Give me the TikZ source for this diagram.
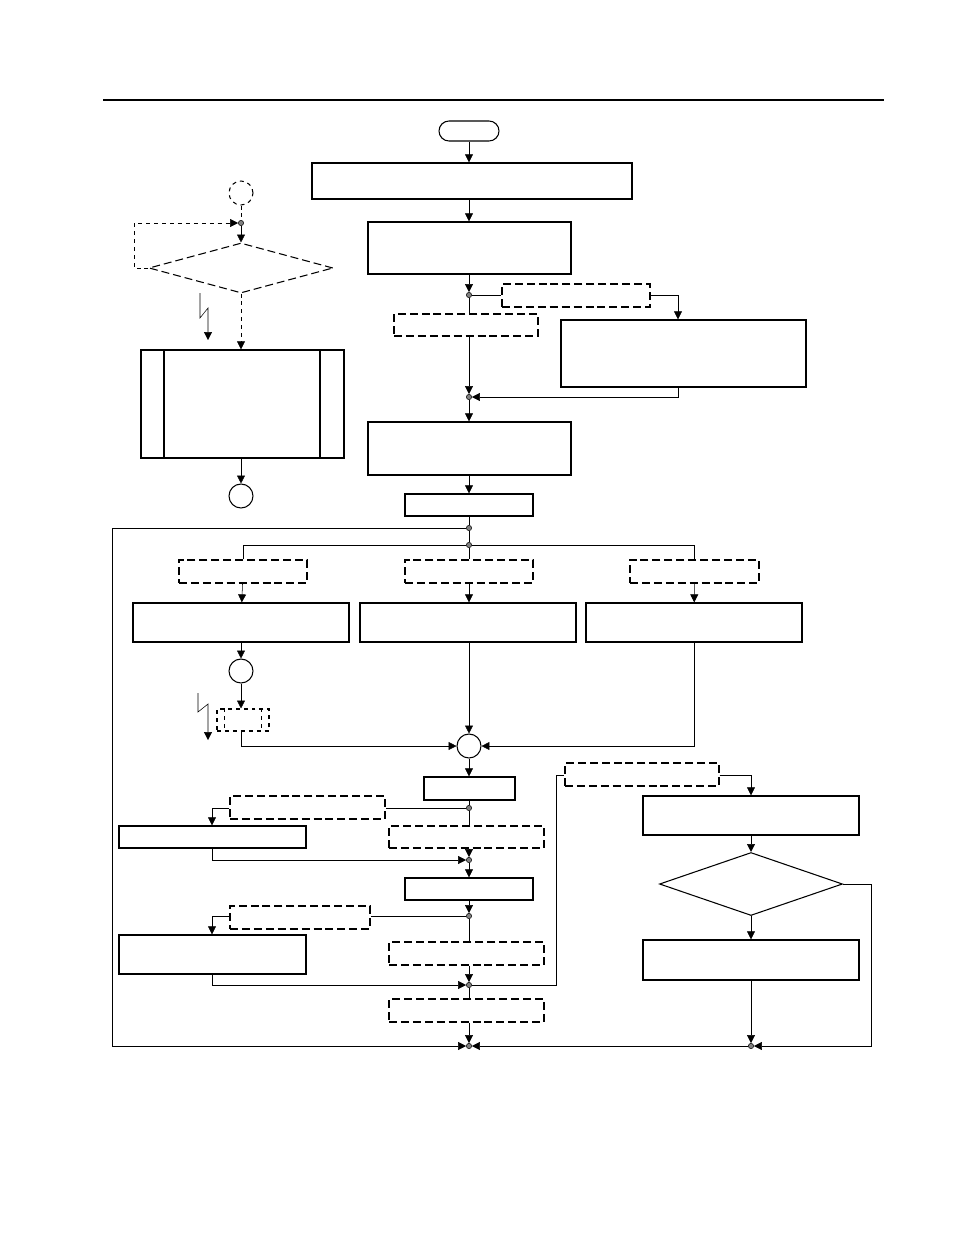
\documentclass[tikz,border=0pt]{standalone}
\usetikzlibrary{arrows.meta,shapes.geometric,shapes.misc,calc}

\tikzset{
  proc/.style={draw, line width=1pt, inner sep=0pt},
  cond/.style={draw, thick, dashed, dash pattern=on 6pt off 3pt, inner sep=0pt},
  flow/.style={-{Triangle[length=6pt,width=6pt]}},
  dot/.style={circle, draw, fill=gray, inner sep=0pt, minimum size=4pt},
  conn/.style={circle, draw, thick, minimum size=24\px, inner sep=0pt}
}
\newlength{\px}\setlength{\px}{0.0265cm}
% box from corner pixels
\newcommand{\pbox}[6][proc]{\node[#1, minimum width=#4\px-#2\px, minimum height=#5\px-#3\px] (#6) at ({(#2+#4)/2*\px},{-(#3+#5)/2*\px}) {};}

\begin{document}
\begin{tikzpicture}[x=\px, y=-\px]
\useasboundingbox (0,0) rectangle (954,1235);
\coordinate (Col) at (469,0);

% Top rule
\draw[line width=1.6pt] (103,100) -- (884,100);

% Main column
\node[draw, thick, rounded rectangle, minimum width=60\px, minimum height=20\px, inner sep=0pt] (Start) at (469,131) {};
\pbox{312}{163}{632}{199}{Init}
\pbox{368}{222}{571}{274}{Setup}
\node[dot] (DotA) at (469,295) {};
\pbox[cond]{502}{284}{650}{307}{CondA}
\pbox[cond]{394}{314}{538}{336}{CondAn}
\pbox{561}{320}{806}{387}{Extra}
\node[dot] (DotB) at (469,397) {};
\pbox{368}{422}{571}{475}{Prepare}
\pbox{405}{494}{533}{516}{Loop}
\node[dot] (DotC) at (469,528) {};
\node[dot] (DotD) at (469,545) {};

\draw[flow] (Start) -- (Init.north -| Col);
\draw[flow] (Init.south -| Col) -- (Setup.north -| Col);
\draw[flow] (Setup.south -| Col) -- (DotA);
\draw (DotA) -- (CondA.west |- DotA);
\draw[flow] (CondA.east |- DotA) -| (Extra.north -| 678,0);
\draw (DotA) -- (CondAn.north -| Col);
\draw[flow] (CondAn.south -| Col) -- (DotB);
\draw[flow] (Extra.south -| 678,0) |- (DotB);
\draw[flow] (DotB) -- (Prepare.north -| Col);
\draw[flow] (Prepare.south -| Col) -- (Loop.north -| Col);
\draw (Loop.south -| Col) -- (DotC) -- (DotD);

% Three branches
\foreach \name/\xa/\xb in {L/179/307, M/405/533, R/630/759}{
  \pbox[cond]{\xa}{560}{\xb}{583}{Case\name}
}
\pbox{133}{603}{349}{642}{ActL}
\pbox{360}{603}{576}{642}{ActM}
\pbox{586}{603}{802}{642}{ActR}
\draw (CaseL.north) |- (DotD) -| (CaseR.north);
\draw (DotD) -- (CaseM.north -| Col);
\draw[flow] (CaseL) -- (ActL);
\draw[flow] (CaseM.south -| Col) -- (ActM.north -| Col);
\draw[flow] (CaseR) -- (ActR);

\node[conn] (OffL) at (241,671) {};
\node[draw, thick, dashed, minimum width=52\px, minimum height=22\px, inner sep=0pt] (WaitL) at (243,720) {};
\draw[thick, dashed] ($(WaitL.north west)+(8,0)$) -- ($(WaitL.south west)+(8,0)$);
\draw[thick, dashed] ($(WaitL.north east)+(-8,0)$) -- ($(WaitL.south east)+(-8,0)$);
\draw[-{Triangle[length=6pt,width=6pt]}] (198,693) -- (198,712) -- (208,704) -- (208,740);
\node[conn] (Merge) at (469,746) {};
\draw[flow] (ActL) -- (OffL);
\draw[flow] (OffL) -- (WaitL.north -| OffL);
\draw[flow] (WaitL.south -| OffL) |- (Merge);
\draw[flow] (ActM.south -| Col) -- (Merge);
\draw[flow] (ActR) |- (Merge);

% Lower column
\pbox{424}{777}{515}{800}{StepF}
\node[dot] (DotE) at (469,808) {};
\pbox[cond]{230}{796}{385}{819}{CondE}
\pbox{119}{826}{306}{848}{ActE}
\pbox[cond]{389}{826}{544}{848}{CondEn}
\node[dot] (DotF) at (469,860) {};
\pbox{405}{878}{533}{900}{StepH}
\node[dot] (DotG) at (469,916) {};
\pbox[cond]{230}{906}{370}{929}{CondG}
\pbox{119}{935}{306}{974}{ActG}
\pbox[cond]{389}{942}{544}{965}{CondGn}
\node[dot] (DotH) at (469,985) {};
\pbox[cond]{389}{999}{544}{1022}{CondH}
\node[dot] (DotI) at (469,1046) {};

\draw[flow] (Merge) -- (StepF.north -| Col);
\draw (StepF.south -| Col) -- (DotE);
\draw (DotE) -- (CondE.east |- DotE);
\draw[flow] (CondE.west |- DotE) -| (ActE.north -| 212,0);
\draw (DotE) -- (CondEn.north -| Col);
\draw[flow] (CondEn.south -| Col) -- (DotF);
\draw[flow] (ActE.south -| 212,0) |- (DotF);
\draw[flow] (DotF) -- (StepH.north -| Col);
\draw[flow] (StepH.south -| Col) -- (DotG);
\draw (DotG) -- (CondG.east |- DotG);
\draw[flow] (CondG.west |- DotG) -| (ActG.north -| 212,0);
\draw (DotG) -- (CondGn.north -| Col);
\draw[flow] (CondGn.south -| Col) -- (DotH);
\draw[flow] (ActG.south -| 212,0) |- (DotH);
\draw (DotH) -- (CondH.north -| Col);
\draw[flow] (CondH.south -| Col) -- (DotI);
\draw[flow] (DotC) -| (112,1046) -- (DotI);

% Right column
\pbox[cond]{565}{763}{719}{786}{CondJ}
\pbox{643}{796}{859}{835}{ActJ}
\node[draw, thick, diamond, aspect=2.9, minimum width=183\px, minimum height=63\px, inner sep=0pt] (Check) at (751,884) {};
\pbox{643}{940}{859}{980}{ActK}
\node[dot] (DotJ) at (751,1046) {};
\draw (DotH) -| (556,775) -- (CondJ.west |- 0,775);
\draw[flow] (CondJ.east |- 0,775) -| (ActJ.north);
\draw[flow] (ActJ) -- (Check);
\draw[flow] (Check) -- (ActK);
\draw[flow] (ActK) -- (DotJ);
\draw[flow] (Check.east) -| (871,1046) -- (DotJ);
\draw[flow] (DotJ) -- (DotI);

% Left interrupt section
\node[conn, dashed] (OffT) at (241,193) {};
\node[dot] (DotT) at (241,223) {};
\node[draw, thick, dashed, dash pattern=on 6pt off 3pt, diamond, aspect=3.7, minimum width=184\px, minimum height=50\px, inner sep=0pt] (Wait) at (241,268) {};
\pbox{141}{350}{344}{458}{Handler}
\draw[line width=1pt] (164,350) -- (164,458) (320,350) -- (320,458);
\node[conn] (OffB) at (241,496) {};
\draw[dashed] (OffT) -- (DotT);
\draw[flow, dashed] (Wait.west) -| (134,223) -- (DotT);
\draw[flow] (DotT) -- (Wait);
\draw[flow, dashed] (Wait) -- (Handler.north -| Wait);
\draw[-{Triangle[length=6pt,width=6pt]}] (200,293) -- (200,318) -- (208,308) -- (208,340);
\draw[flow] (Handler.south -| Wait) -- (OffB);
\end{tikzpicture}
\end{document}
